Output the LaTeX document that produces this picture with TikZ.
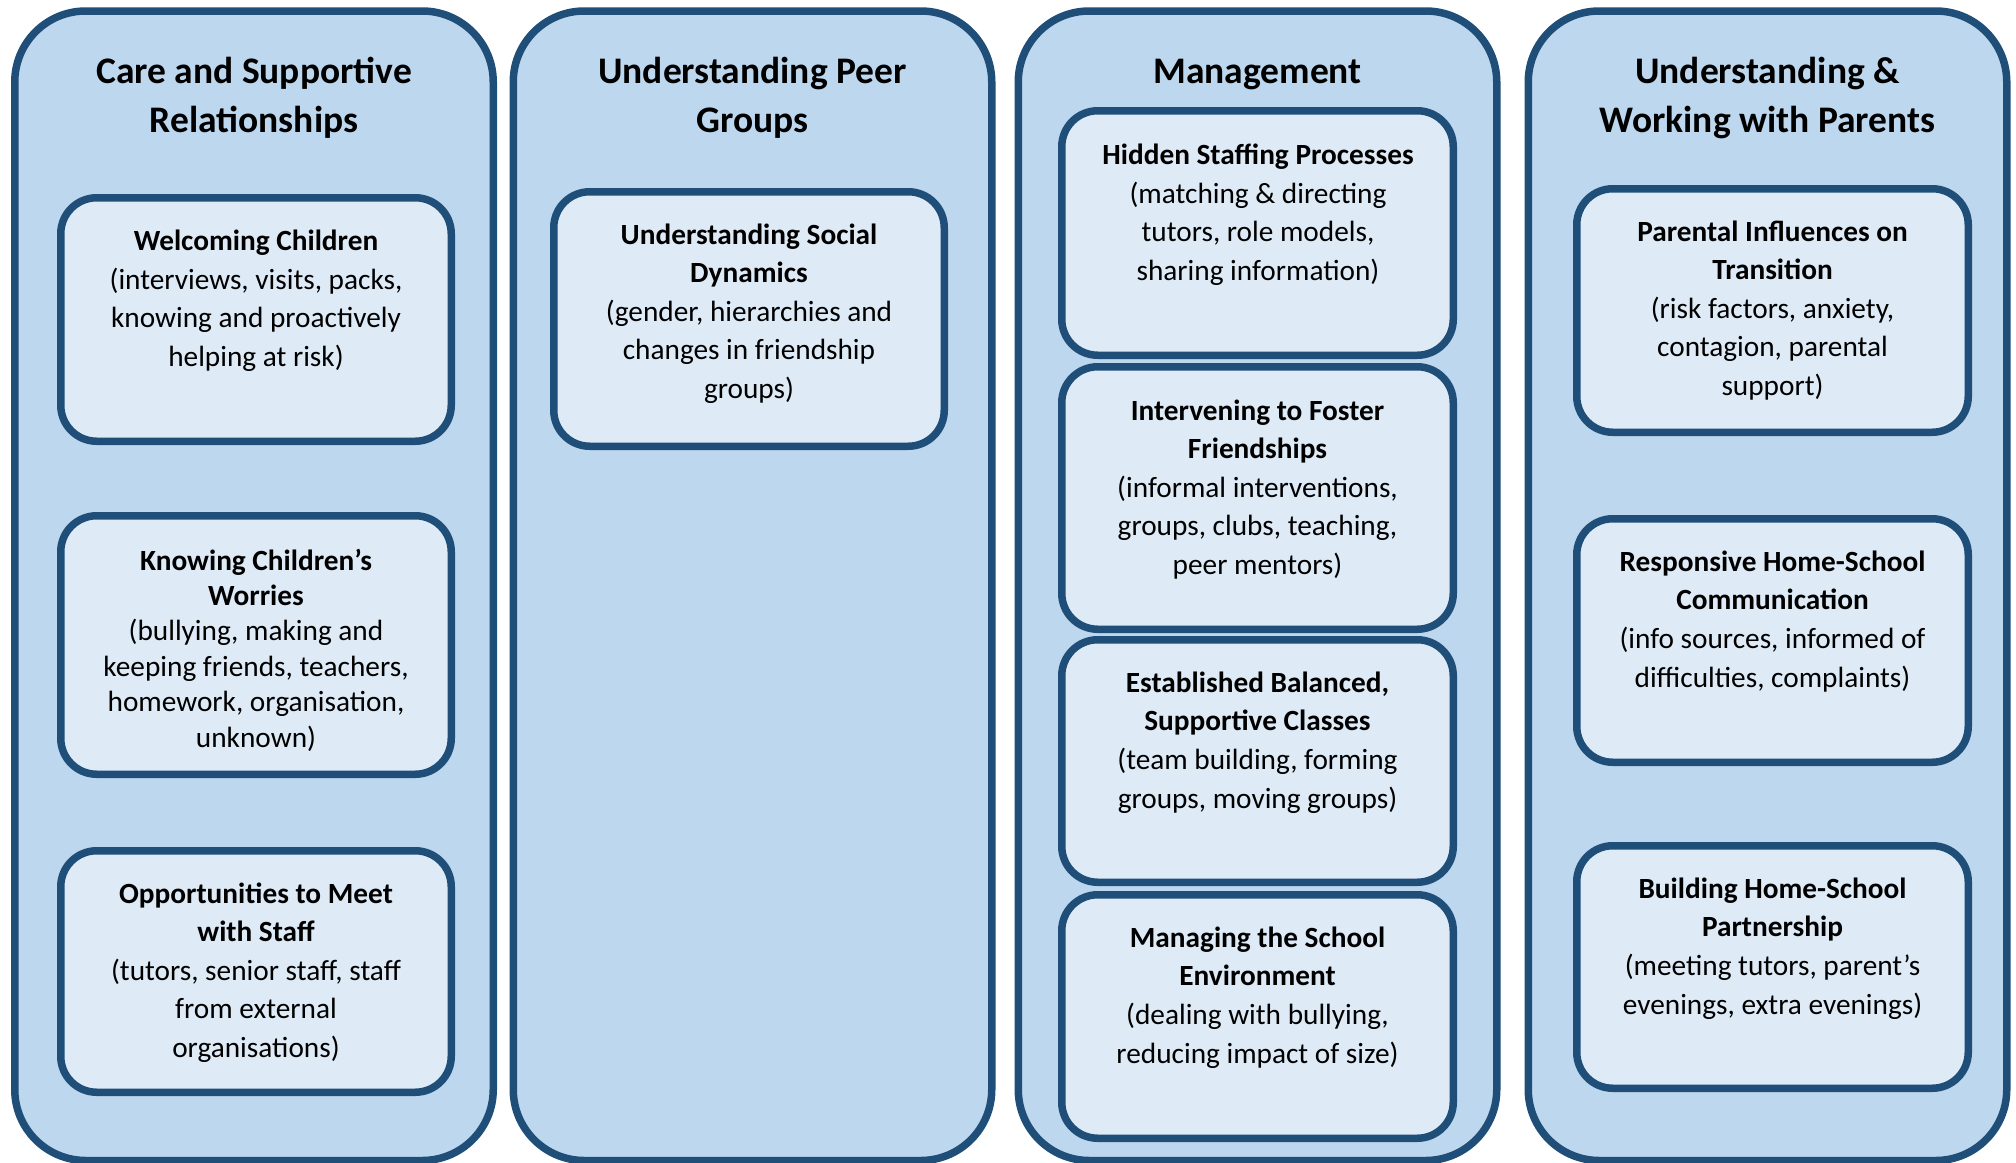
\documentclass[tikz,border=0pt]{standalone}
\usepackage{fontspec}
\setmainfont{Carlito}
\definecolor{bord}{HTML}{1F4E79}
\definecolor{outerfill}{HTML}{BDD7EE}
\definecolor{innerfill}{HTML}{DEEBF7}
\begin{document}
\begin{tikzpicture}[x=1pt,y=-1pt,
  colbox/.style={draw=bord,fill=outerfill,line width=7.5pt,rounded corners=71pt,minimum width=478.5pt,minimum height=1149.5pt,inner sep=0pt,outer sep=0pt},
  itembox/.style={draw=bord,fill=innerfill,line width=7.5pt,rounded corners=36pt,inner sep=0pt,outer sep=0pt},
  ttl/.style={anchor=base,align=center,inner sep=0pt,font=\fontsize{37.5}{49}\selectfont\bfseries},
  itxt/.style={anchor=base,align=center,inner sep=0pt,font=\fontsize{29.3}{38.6}\selectfont},
]
\useasboundingbox (0,0) rectangle (2016,1162);

% columns
\node[colbox] (c1) at (254,585.75) {};
\node[colbox] (c2) at (752.5,585.75) {};
\node[colbox] (c3) at (1257.5,585.75) {};
\node[colbox] (c4) at (1767.5,585.75) {};

% titles (anchor = baseline of last line)
\node[ttl] (h1) at (254,132) {Care and Supportive\\Relationships};
\node[ttl] (h2) at (752.5,132) {Understanding Peer\\Groups};
\node[ttl] (h3) at (1257.5,83) {Management};
\node[ttl] (h4) at (1767.5,132) {Understanding \&\\Working with Parents};

% column 1 boxes
\node[itembox,minimum width=390.5pt,minimum height=243.5pt] (b11) at (256,319.5) {};
\node[itembox,minimum width=390.5pt,minimum height=258.5pt] (b12) at (256,645) {};
\node[itembox,minimum width=390.5pt,minimum height=241.5pt] (b13) at (256,971.5) {};
% column 2
\node[itembox,minimum width=390.5pt,minimum height=254.5pt] (b21) at (749,319) {};
% column 3
\node[itembox,minimum width=391.5pt,minimum height=244.5pt] (b31) at (1257.5,233) {};
\node[itembox,minimum width=391.5pt,minimum height=262.5pt] (b32) at (1257.5,498) {};
\node[itembox,minimum width=391.5pt,minimum height=242.5pt] (b33) at (1257.5,761) {};
\node[itembox,minimum width=391.5pt,minimum height=243.5pt] (b34) at (1257.5,1016.5) {};
% column 4
\node[itembox,minimum width=391.5pt,minimum height=243.5pt] (b41) at (1772.5,310.5) {};
\node[itembox,minimum width=391.5pt,minimum height=243.5pt] (b42) at (1772.5,640.5) {};
\node[itembox,minimum width=391.5pt,minimum height=242.5pt] (b43) at (1772.5,967) {};

% texts (anchor = baseline of last line)
\node[itxt] (t11) at (256,366.5) {\textbf{Welcoming Children}\\(interviews, visits, packs,\\knowing and proactively\\helping at risk)};
\node[itxt,font=\fontsize{29.3}{35.4}\selectfont] (t12) at (256,747) {\textbf{Knowing Children’s}\\\textbf{Worries}\\(bullying, making and\\keeping friends, teachers,\\homework, organisation,\\unknown)};
\node[itxt] (t13) at (256,1057.5) {\textbf{Opportunities to Meet}\\\textbf{with Staff}\\(tutors, senior staff, staff\\from external\\organisations)};

\node[itxt] (t21) at (749,398.5) {\textbf{Understanding Social}\\\textbf{Dynamics}\\(gender, hierarchies and\\changes in friendship\\groups)};

\node[itxt] (t31) at (1258,280.5) {\textbf{Hidden Staffing Processes}\\(matching \& directing\\tutors, role models,\\sharing information)};
\node[itxt] (t32) at (1257.5,574.5) {\textbf{Intervening to Foster}\\\textbf{Friendships}\\(informal interventions,\\groups, clubs, teaching,\\peer mentors)};
\node[itxt] (t33) at (1257.5,808) {\textbf{Established Balanced,}\\\textbf{Supportive Classes}\\(team building, forming\\groups, moving groups)};
\node[itxt] (t34) at (1257.5,1063) {\textbf{Managing the School}\\\textbf{Environment}\\(dealing with bullying,\\reducing impact of size)};

\node[itxt] (t41) at (1772.5,395.5) {\textbf{Parental Influences on}\\\textbf{Transition}\\(risk factors, anxiety,\\contagion, parental\\support)};
\node[itxt] (t42) at (1772.5,687) {\textbf{Responsive Home-School}\\\textbf{Communication}\\(info sources, informed of\\difficulties, complaints)};
\node[itxt] (t43) at (1772.5,1014) {\textbf{Building Home-School}\\\textbf{Partnership}\\(meeting tutors, parent’s\\evenings, extra evenings)};
\end{tikzpicture}
\end{document}
